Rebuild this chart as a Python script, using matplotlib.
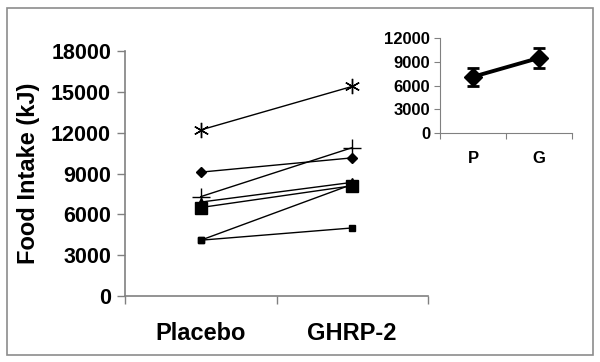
import matplotlib.pyplot as plt
from matplotlib.patches import Rectangle

plt.rcParams['font.family'] = ['Liberation Sans', 'DejaVu Sans']
plt.rcParams['font.weight'] = 'bold'

# individual subjects, placebo vs GHRP-2 (kJ)
conditions = ['Placebo', 'GHRP-2']
placebo = [12200, 9100, 7300, 6900, 6500, 4100, 4100]
ghrp2 = [15400, 10150, 10900, 8350, 8100, 5000, 8200]
markers = [(6, 2, 0), 'D', '+', '^', 's', 's', 's']
msizes = [11, 5, 13, 6, 9, 5, 5]

# inset: group means with error bars
inset_labels = ['P', 'G']
means = [7100, 9480]
errors = [1130, 1300]

yticks_main = [0, 3000, 6000, 9000, 12000, 15000, 18000]
yticks_inset = [0, 3000, 6000, 9000, 12000]

fig = plt.figure(figsize=(6, 3.62), dpi=100)
W, H = 600, 362

axis_grey = '#808080'

ax = fig.add_axes([125 / W, (H - 296) / H, (428 - 125) / W, (296 - 51) / H])
xs = [0.5, 1.5]
for p, g, m, s in zip(placebo, ghrp2, markers, msizes):
    ax.plot(xs, [p, g], color='black', lw=1, marker=m, markersize=s,
            markeredgewidth=1, markerfacecolor='black', markeredgecolor='black',
            clip_on=False)

ax.set_xlim(0, 2)
ax.set_ylim(0, 18000)
ax.set_yticks(yticks_main)
ax.set_yticklabels([str(v) for v in yticks_main], fontsize=15.5, fontweight='bold')
ax.set_xticks([0, 1, 2])
ax.set_xticklabels([])
ax.set_xticks(xs, minor=True)
ax.set_xticklabels(conditions, minor=True, fontsize=17, fontweight='bold')
ax.tick_params(axis='x', which='minor', length=0, pad=19)
ax.tick_params(axis='x', which='major', direction='out', length=6, color=axis_grey, width=1)
ax.tick_params(axis='y', direction='out', length=6, color=axis_grey, width=1, pad=4)
for side in ['top', 'right']:
    ax.spines[side].set_visible(False)
for side in ['left', 'bottom']:
    ax.spines[side].set_color(axis_grey)
    ax.spines[side].set_linewidth(1.2)
ax.set_ylabel('Food Intake (kJ)', fontsize=17, fontweight='bold', labelpad=8)

# inset
ins = fig.add_axes([440 / W, (H - 133) / H, (572 - 440) / W, (133 - 38) / H])
ins.errorbar(xs, means, yerr=errors, color='black', lw=2.8, marker='D',
             markersize=9, capsize=4, capthick=2, elinewidth=2, clip_on=False)
ins.set_xlim(0, 2)
ins.set_ylim(0, 12000)
ins.set_yticks(yticks_inset)
ins.set_yticklabels([str(v) for v in yticks_inset], fontsize=12, fontweight='bold')
ins.set_xticks([0, 1, 2])
ins.set_xticklabels([])
ins.set_xticks(xs, minor=True)
ins.set_xticklabels(inset_labels, minor=True, fontsize=12, fontweight='bold')
ins.tick_params(axis='x', which='minor', length=0, pad=13)
ins.tick_params(axis='x', which='major', direction='out', length=4, color=axis_grey)
ins.tick_params(axis='y', direction='out', length=4, color=axis_grey, pad=3)
for side in ['top', 'right']:
    ins.spines[side].set_visible(False)
for side in ['left', 'bottom']:
    ins.spines[side].set_color(axis_grey)

# outer frame
fig.patches.append(Rectangle((7 / W, 7 / H), 586 / W, 347 / H, transform=fig.transFigure,
                             fill=False, edgecolor='#8c8c8c', lw=1.2))

fig.savefig('out.png', dpi=100)
